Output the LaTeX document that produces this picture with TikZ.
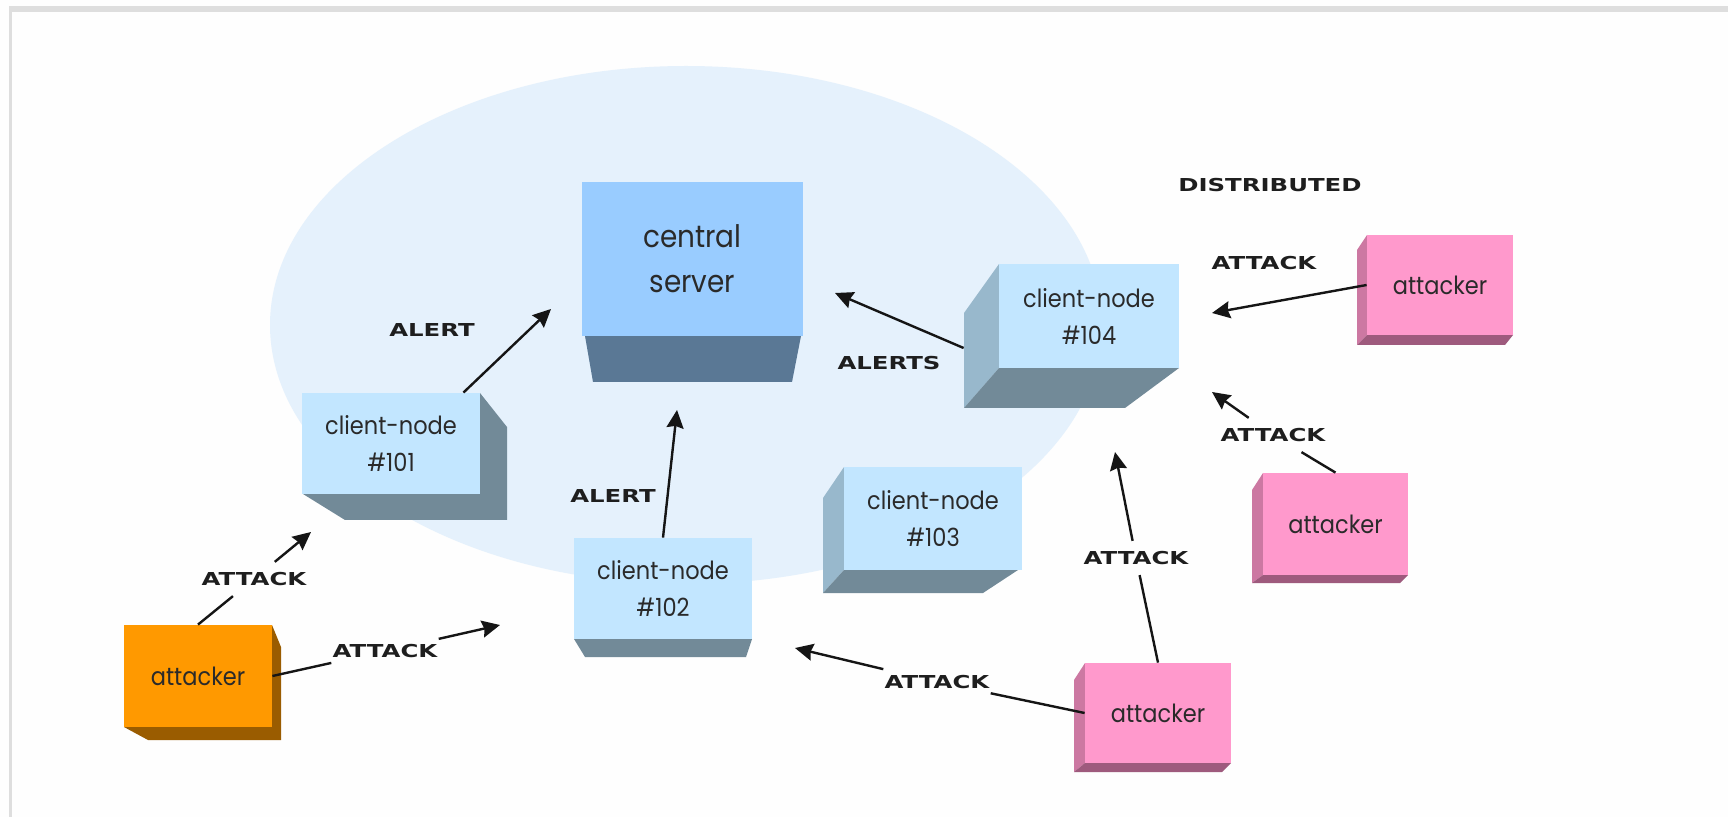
\documentclass[tikz,border=0pt]{standalone}
\usepackage{fontspec}
\usetikzlibrary{arrows.meta,calc}
\newfontfamily\nodefont{Poppins}[FakeStretch=0.9]
\newfontfamily\lblfont{DejaVu Sans}[FakeStretch=1.37]
\definecolor{bgwhite}{HTML}{FEFEFE}
\definecolor{framegray}{HTML}{DEDEDE}
\definecolor{ellc}{HTML}{E5F1FC}
\definecolor{serverfront}{HTML}{99CCFF}
\definecolor{serverbottom}{HTML}{5A7895}
\definecolor{clientfront}{HTML}{C2E6FF}
\definecolor{clientdark}{HTML}{728A98}
\definecolor{clientside}{HTML}{98B8CC}
\definecolor{pinkfront}{HTML}{FF99CC}
\definecolor{pinkside}{HTML}{CC78A2}
\definecolor{pinkbottom}{HTML}{9E5A7D}
\definecolor{orangefront}{HTML}{FF9900}
\definecolor{orangedark}{HTML}{9A5C00}
\definecolor{txtc}{HTML}{2A2A2A}
\definecolor{lblc}{HTML}{1E1E1E}
\definecolor{linec}{HTML}{151515}
\begin{document}
\begin{tikzpicture}[x=0.5pt,y=-0.5pt,
  face/.style={inner sep=0pt, align=center, text=txtc},
  clientface/.style={face, fill=clientfront, minimum width=89pt, minimum height=50.5pt,
    font=\nodefont\fontsize{12.5}{18.5}\selectfont},
  serverface/.style={face, fill=serverfront, minimum width=110.5pt, minimum height=77pt,
    font=\nodefont\fontsize{15.5}{22.5}\selectfont},
  attface/.style={face, fill=pinkfront, minimum width=73pt, minimum height=50pt,
    font=\nodefont\fontsize{12.5}{18.5}\selectfont},
  orangeface/.style={attface, fill=orangefront, minimum width=74pt, minimum height=51pt},
  lbl/.style={font=\lblfont\bfseries\fontsize{8.9}{10}\selectfont, text=lblc,
    inner xsep=0.5pt, inner ysep=5pt},
  conn/.style={draw=linec, line width=1.2pt, -{Stealth[length=9pt,width=8.5pt,inset=1pt]}}
]
\useasboundingbox (0,0) rectangle (1728,817);
\fill[bgwhite] (0,0) rectangle (1728,817);
\fill[framegray] (9,6) rectangle (1728,12);
\fill[framegray] (9,6) rectangle (12,817);

% cloud of the protected network
\fill[ellc] (686,325) ellipse [x radius=416, y radius=259];

% 3D sides
\fill[serverbottom] (585,336) -- (801,336) -- (792,382) -- (593,382) -- cycle;
\fill[clientdark] (480,393) -- (507,427) -- (507,520) -- (345,520) -- (303,494) -- cycle;
\fill[clientdark] (574,639) -- (752,639) -- (746,657) -- (585,657) -- cycle;
\fill[clientside] (844,467) -- (823,498) -- (823,593) -- (844,570) -- cycle;
\fill[clientdark] (844,570) -- (1018,570) -- (983,593) -- (823,593) -- cycle;
\fill[clientside] (999,264) -- (964,313) -- (964,408) -- (999,368) -- cycle;
\fill[clientdark] (999,368) -- (1179,368) -- (1125,408) -- (964,408) -- cycle;
\fill[orangedark] (272,625) -- (281,647) -- (281,740) -- (148,740) -- (124,727) -- cycle;
\fill[pinkside] (1367,235) -- (1357,250) -- (1357,345) -- (1367,335) -- cycle;
\fill[pinkbottom] (1357,345) -- (1505,345) -- (1513,335) -- (1367,335) -- cycle;
\fill[pinkside] (1263,473) -- (1252,490) -- (1252,583) -- (1263,575) -- cycle;
\fill[pinkbottom] (1252,583) -- (1400,583) -- (1408,575) -- (1263,575) -- cycle;
\fill[pinkside] (1085,663) -- (1074,680) -- (1074,772) -- (1085,763) -- cycle;
\fill[pinkbottom] (1074,772) -- (1222,772) -- (1231,763) -- (1085,763) -- cycle;

% front faces
\node[serverface] (srv) at (692.5,259) {central\\server};
\node[clientface] (c101) at (391,443.5) {client-node\\\#101};
\node[clientface] (c102) at (663,588.5) {client-node\\\#102};
\node[clientface, minimum height=51.5pt] (c103) at (933,518.5) {client-node\\\#103};
\node[clientface, minimum width=90pt, minimum height=52pt] (c104) at (1089,316) {client-node\\\#104};
\node[orangeface] (a1) at (198,676) {attacker};
\node[attface] (a2) at (1440,285) {attacker};
\node[attface, minimum width=72.5pt, minimum height=51pt] (a3) at (1335.5,524) {attacker};
\node[attface] (a4) at (1158,713) {attacker};

% labels
\node[lbl] (dist) at (1270,185) {DISTRIBUTED};
\node[lbl] (la) at (432,330) {ALERT};
\node[lbl] (lb) at (613,496) {ALERT};
\node[lbl] (lc) at (889,363) {ALERTS};
\node[lbl] (l1) at (254,579) {ATTACK};
\node[lbl] (l2) at (385,651) {ATTACK};
\node[lbl] (l3) at (937,682) {ATTACK};
\node[lbl] (l4) at (1136,558) {ATTACK};
\node[lbl] (l5) at (1273,435) {ATTACK};
\node[lbl] (l6) at (1264,263) {ATTACK};

% arrow ends
\coordinate (tA) at (551,309);
\coordinate (tB) at (677,410);
\coordinate (tC) at (835,293);
\coordinate (t1) at (311,532);
\coordinate (t2) at (500,625);
\coordinate (t3) at (795,648);
\coordinate (t4) at (1115,452);
\coordinate (t5) at (1212,392);
\coordinate (t6) at (1212,313);

% alerts
\draw[conn] ([xshift=-8.5pt]c101.north east) -- (tA);
\draw[conn] (c102.north) -- (tB);
\draw[conn] ([xshift=-17.5pt,yshift=-16pt]c104.west) -- (tC);

% attacks
\draw[conn] (a1.north) -- (l1) -- (t1);
\draw[conn] (a1.east) -- (l2) -- (t2);
\draw[conn] (a4.west) -- (l3) -- (t3);
\draw[conn] (a4.north) -- (l4) -- (t4);
\draw[conn] (a3.north) -- (l5) -- (t5);
\draw[conn] (a2.west) -- (t6);
\end{tikzpicture}
\end{document}
